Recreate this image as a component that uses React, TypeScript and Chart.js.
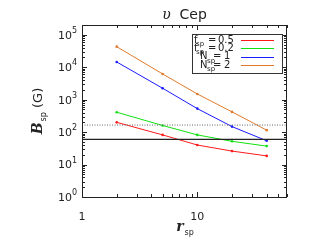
import React, { useEffect, useRef } from "react";
import { Chart, registerables } from "chart.js";

Chart.register(...registerables);

// ---- data ----
const rValues = [2, 5, 10, 20, 40];
const fsp05 = [200, 82, 40, 26, 18.5];
const fsp02 = [410, 160, 82, 52, 37];
const nsp1 = [14500, 2250, 530, 148, 54];
const nsp2 = [43000, 6200, 1500, 420, 115];
const solidLevel = 60;
const dottedLevel = 165;
const xRange = [1, 60];
const yRange = [1, 2e5];
const xTickValues = [1, 10];
const xTickLabels = ["1", "10"];
const yTickValues = [1, 10, 100, 1000, 10000, 100000];
const yTickExponents = ["0", "1", "2", "3", "4", "5"];
const legendNames = ["f", "f", "N", "N"];
const legendValues = ["0.5", "0.2", "1", "2"];
const seriesColors = ["#ff1a1a", "#10e010", "#1a1aff", "#e07a2a"];

const SANS = "'DejaVu Sans', sans-serif";
const SERIF = "'DejaVu Serif', serif";

function minorTicks(min: number, max: number): number[] {
  const out: number[] = [];
  for (let d = Math.pow(10, Math.floor(Math.log10(min))); d <= max; d *= 10) {
    for (let k = 1; k <= 9; k++) {
      const v = k * d;
      if (v >= min && v <= max) out.push(v);
    }
  }
  return out;
}

const framePlugin = {
  id: "frame",
  afterDraw(chart: any) {
    const ctx: CanvasRenderingContext2D = chart.ctx;
    const { left, right, top, bottom } = chart.chartArea;
    const xs = chart.scales.x;
    const ys = chart.scales.y;
    ctx.save();
    ctx.strokeStyle = "#222";
    ctx.lineWidth = 1;
    ctx.strokeRect(left + 0.5, top + 0.5, right - left - 1, bottom - top);

    // ticks
    ctx.beginPath();
    for (const v of minorTicks(xRange[0], xRange[1])) {
      const major = Math.abs(Math.log10(v) - Math.round(Math.log10(v))) < 1e-9;
      const len = major ? 5 : 3;
      const px = Math.round(xs.getPixelForValue(v)) + 0.5;
      ctx.moveTo(px, bottom);
      ctx.lineTo(px, bottom - len);
      ctx.moveTo(px, top);
      ctx.lineTo(px, top + len);
    }
    for (const v of minorTicks(yRange[0], yRange[1])) {
      const major = Math.abs(Math.log10(v) - Math.round(Math.log10(v))) < 1e-9;
      const len = major ? 5 : 3;
      const py = Math.round(ys.getPixelForValue(v)) + 0.5;
      ctx.moveTo(left, py);
      ctx.lineTo(left + len, py);
      ctx.moveTo(right, py);
      ctx.lineTo(right - len, py);
    }
    ctx.stroke();

    // tick labels
    ctx.fillStyle = "#222";
    ctx.textBaseline = "middle";
    yTickValues.forEach((v, i) => {
      const py = ys.getPixelForValue(v) + 1;
      ctx.font = `11px ${SANS}`;
      ctx.textAlign = "right";
      ctx.fillText("10", left - 10, py);
      ctx.font = `8px ${SANS}`;
      ctx.textAlign = "left";
      ctx.fillText(yTickExponents[i], left - 10, py - 5);
    });
    ctx.font = `11px ${SANS}`;
    ctx.textAlign = "center";
    xTickValues.forEach((v, i) => {
      ctx.fillText(xTickLabels[i], xs.getPixelForValue(v), bottom + 20);
    });

    // title
    const cx = (left + right) / 2;
    ctx.textBaseline = "alphabetic";
    ctx.font = `italic 14px ${SERIF}`;
    const upW = ctx.measureText("υ").width;
    ctx.font = `14px ${SANS}`;
    const cepW = ctx.measureText("  Cep").width;
    let tx = cx - (upW + cepW) / 2;
    ctx.textAlign = "left";
    ctx.font = `italic 14px ${SERIF}`;
    ctx.fillText("υ", tx, 19);
    ctx.font = `14px ${SANS}`;
    ctx.fillText("  Cep", tx + upW, 19);

    // x title
    ctx.font = `bold italic 14px ${SERIF}`;
    const rW = ctx.measureText("r").width;
    ctx.font = `8px ${SANS}`;
    const spW = ctx.measureText("sp").width;
    tx = cx - (rW + spW) / 2;
    ctx.font = `bold italic 14px ${SERIF}`;
    ctx.fillText("r", tx, 231);
    ctx.font = `8px ${SANS}`;
    ctx.fillText("sp", tx + rW + 1, 235);

    // y title
    ctx.save();
    ctx.translate(42, (top + bottom) / 2);
    ctx.rotate(-Math.PI / 2);
    ctx.font = `bold italic 14px ${SERIF}`;
    const bW = ctx.measureText("B").width;
    ctx.font = `8px ${SANS}`;
    const sW = ctx.measureText("sp").width;
    ctx.font = `13px ${SANS}`;
    const gW = ctx.measureText(" (G)").width;
    let ty = -(bW + sW + gW + 1) / 2;
    ctx.font = `bold italic 14px ${SERIF}`;
    ctx.fillText("B", ty, 0);
    ctx.font = `8px ${SANS}`;
    ctx.fillText("sp", ty + bW + 1, 4);
    ctx.font = `13px ${SANS}`;
    ctx.fillText(" (G)", ty + bW + sW + 1, 0);
    ctx.restore();

    // legend
    const lx0 = right - 95;
    const ly0 = top + 9;
    ctx.strokeStyle = "#333";
    ctx.strokeRect(lx0 + 0.5, ly0 + 0.5, 90, 39);
    for (let i = 0; i < 4; i++) {
      const rowY = ly0 + 6 + i * 8.4;
      ctx.strokeStyle = seriesColors[i];
      ctx.lineWidth = 1;
      ctx.beginPath();
      ctx.moveTo(lx0 + 49, Math.round(rowY) + 0.5);
      ctx.lineTo(lx0 + 82, Math.round(rowY) + 0.5);
      ctx.stroke();
      ctx.fillStyle = "#222";
      ctx.textBaseline = "middle";
      ctx.textAlign = "left";
      const isF = legendNames[i] === "f";
      ctx.font = `10px ${SANS}`;
      const nx = isF ? lx0 + 2 : lx0 + 8;
      ctx.fillText(legendNames[i], nx, rowY);
      ctx.font = `7px ${SANS}`;
      ctx.fillText("sp", nx + (isF ? 2 : 7), rowY + 4);
      ctx.font = `10px ${SANS}`;
      ctx.fillText("=", isF ? lx0 + 16 : lx0 + 21, rowY);
      ctx.fillText(legendValues[i], isF ? lx0 + 26 : lx0 + 32, rowY);
    }
    ctx.restore();
  },
};

export default function App() {
  const ref = useRef<HTMLCanvasElement | null>(null);
  useEffect(() => {
    if (!ref.current) return;
    const series = [fsp05, fsp02, nsp1, nsp2];
    const datasets: any[] = [
      {
        data: [
          { x: xRange[0], y: solidLevel },
          { x: xRange[1], y: solidLevel },
        ],
        borderColor: "#222",
        borderWidth: 1.3,
        pointRadius: 0,
      },
      {
        data: [
          { x: xRange[0], y: dottedLevel },
          { x: xRange[1], y: dottedLevel },
        ],
        borderColor: "#666",
        borderWidth: 1,
        borderDash: [1, 1.5],
        pointRadius: 0,
      },
      ...series.map((s, i) => ({
        data: rValues.map((r, j) => ({ x: r, y: s[j] })),
        borderColor: seriesColors[i],
        backgroundColor: seriesColors[i],
        borderWidth: 1,
        pointRadius: 1.3,
        pointBorderWidth: 0,
      })),
    ];
    const chart = new Chart(ref.current, {
      type: "line",
      data: { datasets },
      options: {
        animation: false,
        responsive: false,
        devicePixelRatio: 1,
        layout: { padding: { left: 82, top: 25, right: 25, bottom: 52 } },
        plugins: { legend: { display: false }, tooltip: { enabled: false } },
        scales: {
          x: { type: "logarithmic", min: xRange[0], max: xRange[1], display: false },
          y: { type: "logarithmic", min: yRange[0], max: yRange[1], display: false },
        },
      },
      plugins: [framePlugin],
    } as any);
    return () => chart.destroy();
  }, []);
  return (
    <div style={{ position: "fixed", left: 0, top: 0, width: 312, height: 249, background: "#fff" }}>
      <canvas ref={ref} width={312} height={249} style={{ width: 312, height: 249 }} />
    </div>
  );
}
